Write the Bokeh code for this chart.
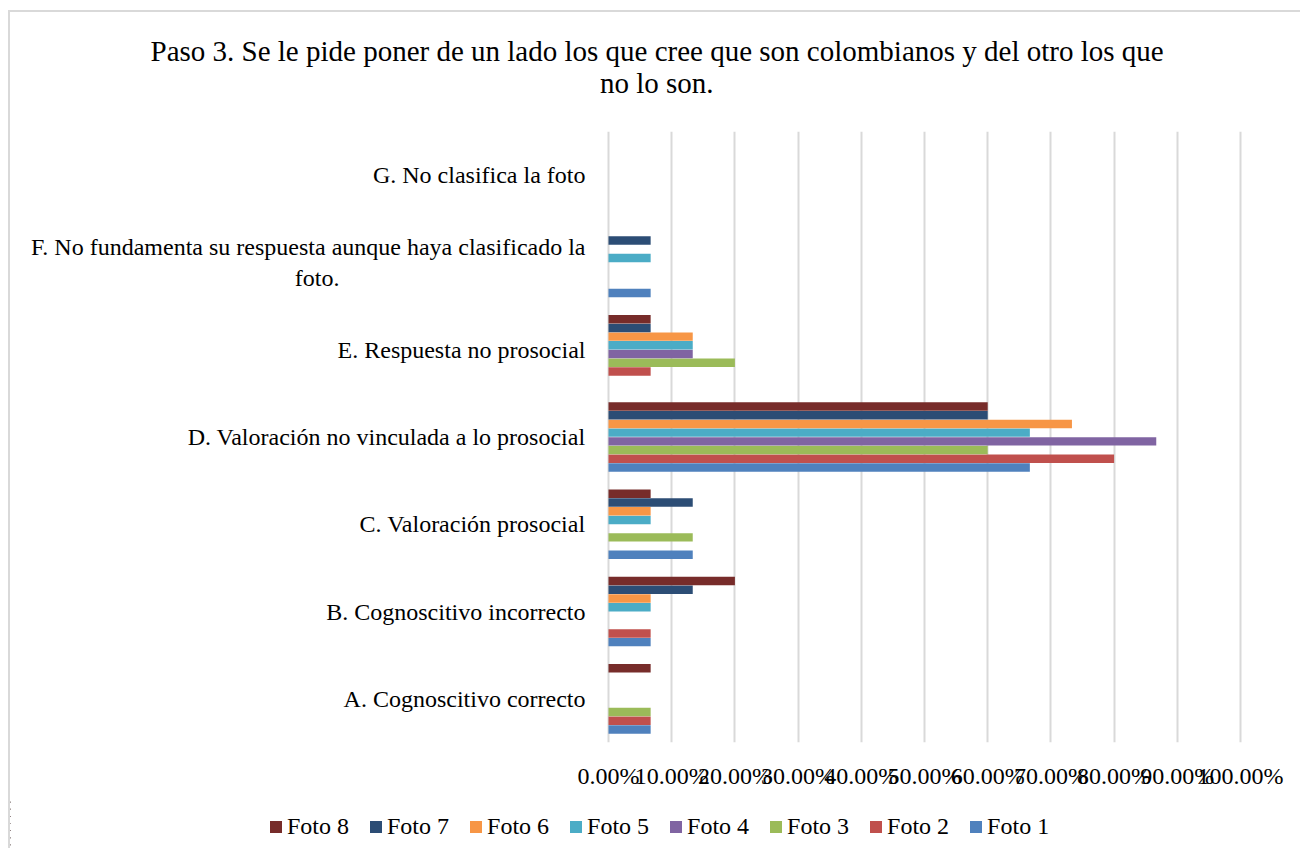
from bokeh.plotting import figure
from bokeh.layouts import column
from bokeh.models import (ColumnDataSource, FactorRange, Range1d, NumeralTickFormatter,
                          Legend, LegendItem, Title)
from bokeh.core.properties import value
from bokeh.transform import dodge
from bokeh.embed import file_html
from bokeh.resources import INLINE

NB = "\u00a0"
categories = [
    "A. Cognoscitivo correcto",
    "B. Cognoscitivo incorrecto",
    "C. Valoración prosocial",
    "D. Valoración no vinculada a lo prosocial",
    "E. Respuesta no prosocial",
    "F. No fundamenta su respuesta aunque haya clasificado la\nfoto." + NB * 41,
    "G. No clasifica la foto",
]
series_names = ["Foto 1", "Foto 2", "Foto 3", "Foto 4", "Foto 5", "Foto 6", "Foto 7", "Foto 8"]
foto1 = [6.67, 6.67, 13.33, 66.67, 0, 6.67, 0]
foto2 = [6.67, 6.67, 0, 80.00, 6.67, 0, 0]
foto3 = [6.67, 0, 13.33, 60.00, 20.00, 0, 0]
foto4 = [0, 0, 0, 86.67, 13.33, 0, 0]
foto5 = [0, 6.67, 6.67, 66.67, 13.33, 6.67, 0]
foto6 = [0, 6.67, 6.67, 73.33, 13.33, 0, 0]
foto7 = [0, 13.33, 13.33, 60.00, 6.67, 6.67, 0]
foto8 = [6.67, 20.00, 6.67, 60.00, 6.67, 0, 0]
tick_values = [0, 0.1, 0.2, 0.3, 0.4, 0.5, 0.6, 0.7, 0.8, 0.9, 1.0]
title_lines = ["Paso 3. Se le pide poner de un lado los que cree que son colombianos y del otro los que",
               "no lo son."]

all_series = [foto1, foto2, foto3, foto4, foto5, foto6, foto7, foto8]
colors = ["#4F81BD", "#C0504D", "#9BBB59", "#8064A2", "#4BACC6", "#F79646", "#2C4D75", "#772C2A"]
FONT = "Liberation Serif"
BORDER = "2px solid #D9D9D9"

W = 1292
PX_PER_UNIT = 632.0       # width of 0..100 %
ZERO_PX = 598.0           # canvas x of 0 %
LABEL_GAP = 23.0          # gap between category labels and the 0 % line

data = {"cat": categories, "label": categories}
for name, vals in zip(series_names, all_series):
    data[name] = [v / 100.0 for v in vals]
data["label_x"] = [-LABEL_GAP / PX_PER_UNIT] * len(categories)
source = ColumnDataSource(data)

x_start = -ZERO_PX / PX_PER_UNIT
x_end = 1 + (W - ZERO_PX - PX_PER_UNIT) / PX_PER_UNIT

p = figure(width=W, height=788, output_backend="svg", toolbar_location=None,
           y_range=FactorRange(*categories, range_padding=0), x_range=Range1d(x_start, x_end),
           y_axis_location=None,
           min_border_left=0, min_border_right=0, min_border_top=119, min_border_bottom=58)
p.title.visible = False
p.outline_line_color = None
p.background_fill_color = "white"
p.border_fill_color = "white"
p.margin = (10, 0, 0, 8)
p.styles = {"border-left": BORDER, "border-top": BORDER}

bar_h = 0.1
for i, (name, col) in enumerate(zip(series_names, colors)):
    off = -0.35 + i * bar_h
    p.hbar(y=dodge("cat", off, range=p.y_range), right=name, left=0,
           height=bar_h * 0.97, source=source, fill_color=col, line_color=None)

# category labels
p.text(x="label_x", y="cat", text="label", source=source, text_align="right",
       text_baseline="middle", text_font=value(FONT), text_font_size="24px", text_color="#000000")

# x axis
p.xaxis.ticker = tick_values
p.xaxis.formatter = NumeralTickFormatter(format="0.00%")
p.xaxis.axis_line_color = None
p.xaxis.major_tick_line_color = None
p.xaxis.minor_tick_line_color = None
p.xaxis.major_tick_out = 0
p.xaxis.major_tick_in = 0
p.xaxis.major_label_standoff = 20
p.xaxis.major_label_text_font = FONT
p.xaxis.major_label_text_font_size = "24px"
p.xaxis.major_label_text_color = "#000000"

p.xgrid.grid_line_color = "#D9D9D9"
p.xgrid.grid_line_width = 2
p.ygrid.grid_line_color = None

# two-line title, second line centred under the first
title_text = title_lines[0] + "\n" + NB * 62 + title_lines[1] + "\n" + NB
p.add_layout(Title(text=title_text, align="left", offset=140, text_font=FONT,
                   text_font_size="29px", text_font_style="normal", text_color="#000000",
                   standoff=2), "above")

# legend strip below the chart (its bars lie outside its visible range)
pl = figure(width=W, height=50, output_backend="svg", toolbar_location=None,
            x_range=Range1d(2, 3), y_range=FactorRange(*categories), min_border=0,
            x_axis_location=None, y_axis_location=None)
pl.title.visible = False
pl.outline_line_color = None
pl.grid.visible = False
pl.margin = (0, 0, 0, 8)
pl.styles = {"border-left": BORDER}
leg_renderers = []
for i, (name, col) in enumerate(zip(series_names, colors)):
    leg_renderers.append(pl.hbar(y="cat", right=name, left=0, height=0.1, source=source,
                                 fill_color=col, line_color=None))
items = [LegendItem(label=n, renderers=[r]) for n, r in zip(series_names[::-1], leg_renderers[::-1])]
legend = Legend(items=items, orientation="horizontal", location=(258, 8),
                glyph_width=15, glyph_height=15, label_standoff=4, spacing=19, padding=0, margin=0,
                label_text_font=FONT, label_text_font_size="24px", label_height=24,
                label_text_color="#000000", border_line_color=None, background_fill_alpha=0)
pl.add_layout(legend, "center")

layout = column(p, pl, spacing=0)
open("out.html", "w").write(file_html(layout, INLINE))
